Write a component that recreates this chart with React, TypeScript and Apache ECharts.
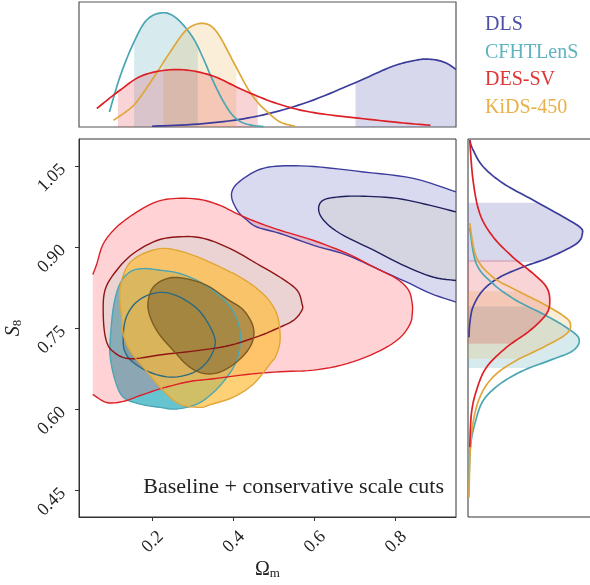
import React, { useEffect, useRef } from 'react';
import * as echarts from 'echarts';

const FONT = "'Liberation Serif', 'DejaVu Serif', serif";

// ---------- axes ----------
const xTicks = [0.2, 0.4, 0.6, 0.8];
const yTicks = [0.45, 0.6, 0.75, 0.9, 1.05];
const seriesNames = ['DLS', 'CFHTLenS', 'DES-SV', 'KiDS-450'];
const annotation = 'Baseline + conservative scale cuts';

// ---------- 2D contours [Omega_m, S8] ----------
const dlsOuter = [[0.95,1.002],[0.845,1.027],[0.722,1.039],[0.599,1.049],[0.516,1.050],[0.467,1.044],[0.426,1.027],[0.401,1.009],[0.397,0.990],[0.413,0.965],[0.434,0.950],[0.459,0.937],[0.516,0.925],[0.599,0.903],[0.681,0.885],[0.763,0.857],[0.837,0.832],[0.887,0.814],[0.95,0.798]];
const dlsInner = [[0.95,0.965],[0.887,0.977],[0.804,0.990],[0.722,0.994],[0.664,0.993],[0.623,0.987],[0.611,0.971],[0.623,0.950],[0.664,0.925],[0.747,0.894],[0.829,0.863],[0.895,0.844],[0.95,0.838]];
const desOuter = [[0.054,0.849],[0.064,0.869],[0.080,0.906],[0.113,0.937],[0.163,0.965],[0.212,0.984],[0.261,0.990],[0.319,0.988],[0.368,0.977],[0.409,0.962],[0.459,0.946],[0.516,0.931],[0.599,0.912],[0.681,0.888],[0.747,0.863],[0.804,0.841],[0.833,0.820],[0.842,0.795],[0.842,0.776],[0.837,0.758],[0.813,0.733],[0.763,0.708],[0.681,0.684],[0.599,0.672],[0.516,0.669],[0.434,0.664],[0.352,0.656],[0.294,0.651],[0.228,0.639],[0.171,0.625],[0.129,0.614],[0.088,0.612],[0.054,0.627]];
const desInner = [[0.080,0.770],[0.084,0.820],[0.113,0.857],[0.154,0.888],[0.212,0.912],[0.269,0.919],[0.327,0.916],[0.393,0.897],[0.459,0.869],[0.516,0.844],[0.558,0.820],[0.570,0.795],[0.570,0.783],[0.549,0.764],[0.508,0.749],[0.467,0.736],[0.393,0.718],[0.311,0.708],[0.228,0.701],[0.146,0.693],[0.105,0.706],[0.087,0.727]];
const cfhtOuter = [[0.097,0.727],[0.105,0.789],[0.121,0.832],[0.146,0.854],[0.179,0.860],[0.220,0.857],[0.269,0.851],[0.319,0.835],[0.360,0.814],[0.393,0.789],[0.413,0.758],[0.418,0.727],[0.409,0.690],[0.385,0.659],[0.352,0.631],[0.311,0.609],[0.261,0.600],[0.220,0.603],[0.171,0.609],[0.129,0.622],[0.109,0.653],[0.097,0.696]];
const cfhtInner = [[0.129,0.727],[0.134,0.764],[0.154,0.792],[0.187,0.810],[0.228,0.816],[0.269,0.807],[0.311,0.786],[0.339,0.758],[0.356,0.727],[0.348,0.702],[0.327,0.680],[0.294,0.665],[0.245,0.659],[0.195,0.668],[0.154,0.686],[0.134,0.705]];
const kidsOuter = [[0.125,0.770],[0.121,0.820],[0.138,0.863],[0.171,0.885],[0.220,0.897],[0.261,0.894],[0.311,0.882],[0.368,0.863],[0.418,0.844],[0.459,0.823],[0.492,0.798],[0.511,0.768],[0.516,0.727],[0.506,0.699],[0.492,0.684],[0.450,0.646],[0.401,0.622],[0.344,0.608],[0.319,0.603],[0.269,0.609],[0.228,0.634],[0.179,0.677],[0.146,0.708],[0.129,0.739]];
const kidsInner = [[0.191,0.783],[0.195,0.814],[0.212,0.832],[0.245,0.843],[0.286,0.841],[0.335,0.829],[0.385,0.804],[0.426,0.783],[0.450,0.751],[0.446,0.721],[0.418,0.693],[0.376,0.671],[0.335,0.665],[0.294,0.677],[0.253,0.708],[0.212,0.745]];

// ---------- top marginals [Omega_m, density] ----------
const dlsTop = [[0.200,0.006],[0.327,0.027],[0.450,0.080],[0.574,0.188],[0.697,0.348],[0.780,0.468],[0.821,0.513],[0.862,0.540],[0.878,0.543],[0.903,0.535],[0.928,0.508],[0.95,0.46]];
const cfhtTop = [[0.095,0.12],[0.121,0.401],[0.154,0.669],[0.187,0.856],[0.227,0.914],[0.262,0.866],[0.300,0.72],[0.325,0.56],[0.346,0.401],[0.37,0.24],[0.395,0.11],[0.42,0.04],[0.45,0.012],[0.475,0.004]];
const desTop = [[0.064,0.148],[0.121,0.294],[0.179,0.415],[0.261,0.46],[0.344,0.415],[0.426,0.294],[0.508,0.188],[0.59,0.12],[0.697,0.075],[0.821,0.032],[0.887,0.014]];
const kidsTop = [[0.105,0.054],[0.135,0.12],[0.162,0.2],[0.205,0.40],[0.245,0.60],[0.286,0.78],[0.327,0.829],[0.36,0.76],[0.401,0.52],[0.434,0.32],[0.46,0.2],[0.485,0.12],[0.516,0.04],[0.553,0.006]];
const dlsTopBand = [0.702, 0.95];
const cfhtTopBand = [0.156, 0.313];
const desTopBand = [0.116, 0.461];
const kidsTopBand = [0.228, 0.408];

// ---------- right marginals [density, S8] ----------
const dlsRight = [[0.014,1.098],[0.04,1.080],[0.12,1.049],[0.28,1.018],[0.52,0.987],[0.76,0.956],[0.894,0.937],[0.915,0.925],[0.867,0.906],[0.654,0.881],[0.44,0.863],[0.254,0.844],[0.12,0.820],[0.04,0.789],[0.014,0.758],[0.008,0.733]];
const cfhtRight = [[0.014,0.935],[0.067,0.869],[0.2,0.832],[0.387,0.801],[0.6,0.776],[0.787,0.751],[0.888,0.730],[0.84,0.708],[0.654,0.690],[0.44,0.671],[0.254,0.646],[0.12,0.615],[0.054,0.572],[0.019,0.529],[0.008,0.467]];
const desRight = [[0.014,1.098],[0.04,1.024],[0.094,0.962],[0.2,0.919],[0.36,0.881],[0.52,0.851],[0.627,0.826],[0.654,0.801],[0.627,0.776],[0.494,0.745],[0.307,0.714],[0.147,0.677],[0.067,0.634],[0.027,0.591],[0.014,0.529]];
const kidsRight = [[0.014,0.944],[0.067,0.881],[0.2,0.844],[0.387,0.820],[0.6,0.795],[0.76,0.773],[0.819,0.758],[0.787,0.739],[0.6,0.714],[0.387,0.690],[0.227,0.665],[0.12,0.634],[0.054,0.591],[0.019,0.529],[0.008,0.436]];
const dlsRightBand = [0.872, 0.982];
const cfhtRightBand = [0.676, 0.790];
const desRightBand = [0.721, 0.876];
const kidsRightBand = [0.693, 0.818];

// ---------- styles ----------
const STY: any = {
  'DLS': { line: '#3c3c9c', inLine: '#1f1f5e', oFill: 'rgba(120,120,200,0.28)', iFill: 'rgba(195,195,165,0.2)', band: 'rgba(110,110,185,0.27)', legend: '#4f4fa8' },
  'CFHTLenS': { line: '#4ba6b3', inLine: '#2a6a82', oFill: 'rgba(75,185,200,0.85)', iFill: 'rgba(30,80,95,0.22)', band: 'rgba(75,165,180,0.22)', legend: '#5fb2be' },
  'DES-SV': { line: '#dd1f26', inLine: '#8e1515', oFill: 'rgba(255,80,90,0.25)', iFill: 'rgba(122,211,201,0.15)', band: 'rgba(220,40,50,0.2)', legend: '#de3535' },
  'KiDS-450': { line: '#e0a638', inLine: '#7d5a20', oFill: 'rgba(255,190,60,0.7)', iFill: 'rgba(100,80,35,0.45)', band: 'rgba(230,170,60,0.2)', legend: '#e8b04a' },
};

function catmull(p: number[][], closed: boolean, seg: number) {
  const n = p.length;
  const out: number[][] = [];
  const g = (i: number) => closed ? p[((i % n) + n) % n] : p[Math.max(0, Math.min(n - 1, i))];
  const segs = closed ? n : n - 1;
  for (let i = 0; i < segs; i++) {
    const p0 = g(i - 1), p1 = g(i), p2 = g(i + 1), p3 = g(i + 2);
    for (let k = 0; k < seg; k++) {
      const t = k / seg, t2 = t * t, t3 = t2 * t;
      const f = (a: number, b: number, c: number, d: number) =>
        0.5 * (2 * b + (-a + c) * t + (2 * a - 5 * b + 4 * c - d) * t2 + (-a + 3 * b - 3 * c + d) * t3);
      out.push([f(p0[0], p1[0], p2[0], p3[0]), f(p0[1], p1[1], p2[1], p3[1])]);
    }
  }
  out.push(closed ? p[0] : p[n - 1]);
  return out;
}

// open = contour cut by the prior edge (no stroke along the edge)
function contourSeries(name: string, outer: number[][], outerOpen: boolean, inner: number[][], innerOpen: boolean, order: number) {
  const s = STY[name];
  return {
    type: 'custom', name, xAxisIndex: 0, yAxisIndex: 0, silent: true, data: [[0, 0]],
    renderItem: (params: any, api: any) => {
      const children: any[] = [];
      [[outer, s.oFill, s.line, 0, outerOpen], [inner, s.iFill, s.inLine, 1, innerOpen]].forEach((c: any) => {
        const px = c[0].map((p: number[]) => api.coord(p));
        const dense = catmull(px, !c[4], 6);
        children.push({ type: 'polygon', z2: order * 2 + c[3], shape: { points: dense }, style: { fill: c[1], stroke: null } });
        children.push({ type: 'polyline', z2: 50 + order * 2 + c[3], shape: { points: dense }, style: { stroke: c[2], lineWidth: 1.4, fill: null } });
      });
      return { type: 'group', children };
    },
  };
}

function bandClip(dense: number[][], k: number, a: number, b: number, base: number) {
  const lo = Math.min(a, b), hi = Math.max(a, b);
  const res: number[][] = [];
  for (let i = 0; i < dense.length; i++) {
    const p = dense[i];
    if (i > 0) {
      const q = dense[i - 1];
      const edges = p[k] >= q[k] ? [lo, hi] : [hi, lo];
      for (const e of edges) {
        if ((q[k] - e) * (p[k] - e) < 0) {
          const t = (e - q[k]) / (p[k] - q[k]);
          res.push([q[0] + t * (p[0] - q[0]), q[1] + t * (p[1] - q[1])]);
        }
      }
    }
    if (p[k] >= lo && p[k] <= hi) res.push(p);
  }
  if (!res.length) return [];
  const bp = (p: number[]) => (k === 0 ? [p[0], base] : [base, p[1]]);
  return [bp(res[0]), ...res, bp(res[res.length - 1])];
}

function marginalSeries(name: string, pts: number[][], band: number[], right: boolean, order: number) {
  const s = STY[name];
  const idx = right ? 2 : 1;
  return {
    type: 'custom', name, xAxisIndex: idx, yAxisIndex: idx, silent: true, data: [[0, 0]],
    renderItem: (params: any, api: any) => {
      const px = pts.map((p) => api.coord(p));
      const dense = catmull(px, false, 10);
      let poly: number[][];
      if (!right) {
        const a = api.coord([band[0], 0]), b = api.coord([band[1], 0]);
        poly = bandClip(dense, 0, a[0], b[0], a[1]);
      } else {
        const a = api.coord([0, band[0]]), b = api.coord([0, band[1]]);
        poly = bandClip(dense, 1, a[1], b[1], a[0]);
      }
      return {
        type: 'group', children: [
          { type: 'polygon', z2: order, shape: { points: poly }, style: { fill: s.band, stroke: null } },
          { type: 'polyline', z2: 20 + order, shape: { points: dense }, style: { stroke: s.line, lineWidth: 1.7, fill: null } },
        ],
      };
    },
  };
}

export default function App() {
  const ref = useRef<HTMLDivElement>(null);
  useEffect(() => {
    if (!ref.current) return;
    const chart = echarts.init(ref.current, undefined, { renderer: 'svg' });
    const axisLabelBase = { fontFamily: FONT, fontSize: 18, color: '#222' };
    const option: any = {
      animation: false,
      grid: [
        { left: 79, top: 139, width: 377, height: 378, show: true, borderColor: '#333', borderWidth: 1, containLabel: false, outerBoundsMode: 'none' },
        { left: 79, top: 2, width: 377, height: 125, show: true, borderColor: '#555', borderWidth: 1.2, containLabel: false, outerBoundsMode: 'none' },
        { left: 468, top: 139, width: 125, height: 378, show: true, borderColor: '#333', borderWidth: 1, containLabel: false, outerBoundsMode: 'none' },
      ],
      xAxis: [
        {
          gridIndex: 0, type: 'value', min: 0.02, max: 0.95, splitLine: { show: false },
          axisLine: { lineStyle: { color: '#333' } },
          axisTick: { customValues: xTicks, length: 4, lineStyle: { color: '#333' } },
          axisLabel: { ...axisLabelBase, customValues: xTicks, formatter: (v: number) => v.toFixed(1), rotate: 45, align: 'center', verticalAlign: 'middle', margin: 24 },
          name: '{o|Ω}{m|m}', nameLocation: 'middle', nameGap: 40, nameMoveOverlap: false,
          nameTextStyle: { color: '#222', rich: { o: { fontFamily: FONT, fontSize: 20, lineHeight: 22, color: '#222' }, m: { fontFamily: FONT, fontSize: 13, lineHeight: 12, verticalAlign: 'bottom', color: '#222' } } },
        },
        { gridIndex: 1, type: 'value', min: 0.02, max: 0.95, show: false },
        { gridIndex: 2, type: 'value', min: 0, max: 1, show: false },
      ],
      yAxis: [
        {
          gridIndex: 0, type: 'value', min: 0.4, max: 1.1, splitLine: { show: false },
          axisLine: { lineStyle: { color: '#333' } },
          axisTick: { customValues: yTicks, length: 4, lineStyle: { color: '#333' } },
          axisLabel: { ...axisLabelBase, customValues: yTicks, formatter: (v: number) => v.toFixed(2), rotate: 45, margin: 17 },
          name: '{s|S}{b|8}', nameLocation: 'middle', nameGap: 55, nameRotate: 90,
          nameTextStyle: { color: '#222', rich: { s: { fontFamily: FONT, fontStyle: 'italic', fontSize: 20, lineHeight: 22, color: '#222' }, b: { fontFamily: FONT, fontSize: 13, lineHeight: 12, verticalAlign: 'bottom', color: '#222' } } },
        },
        { gridIndex: 1, type: 'value', min: 0, max: 1, show: false },
        { gridIndex: 2, type: 'value', min: 0.4, max: 1.1, show: false },
      ],
      legend: {
        orient: 'vertical', left: 480, top: 13, padding: 0, itemWidth: 0, itemHeight: 0, itemGap: 7.7,
        selectedMode: false, icon: 'rect',
        textStyle: { fontFamily: FONT, fontSize: 20 },
        data: seriesNames.map((n) => ({ name: n, textStyle: { color: STY[n].legend } })),
      },
      graphic: [
        { type: 'text', x: 444, y: 485, silent: true, style: { text: annotation, fontFamily: FONT, fontSize: 22, fill: '#222', align: 'right', verticalAlign: 'middle' } },
      ],
      series: [
        contourSeries('DLS', dlsOuter, true, dlsInner, true, 0),
        contourSeries('CFHTLenS', cfhtOuter, false, cfhtInner, false, 1),
        contourSeries('DES-SV', desOuter, true, desInner, false, 2),
        contourSeries('KiDS-450', kidsOuter, false, kidsInner, false, 3),
        marginalSeries('DLS', dlsTop, dlsTopBand, false, 0),
        marginalSeries('CFHTLenS', cfhtTop, cfhtTopBand, false, 1),
        marginalSeries('KiDS-450', kidsTop, kidsTopBand, false, 2),
        marginalSeries('DES-SV', desTop, desTopBand, false, 3),
        marginalSeries('DLS', dlsRight, dlsRightBand, true, 0),
        marginalSeries('CFHTLenS', cfhtRight, cfhtRightBand, true, 1),
        marginalSeries('KiDS-450', kidsRight, kidsRightBand, true, 2),
        marginalSeries('DES-SV', desRight, desRightBand, true, 3),
      ],
    };
    chart.setOption(option);
    return () => chart.dispose();
  }, []);
  return <div ref={ref} style={{ position: 'fixed', left: 0, top: 0, width: 590, height: 585 }} />;
}
